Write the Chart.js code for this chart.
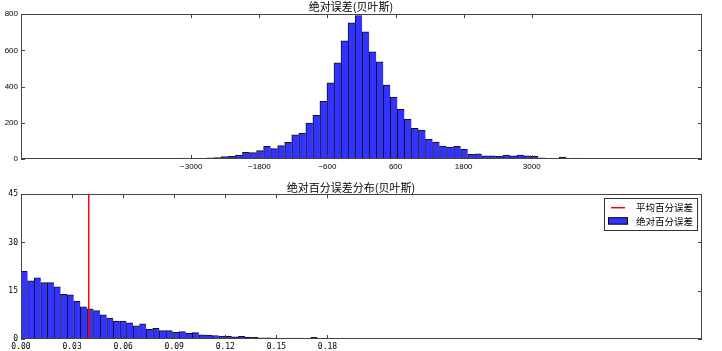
<!DOCTYPE html>
<html lang="zh">
<head>
<meta charset="UTF-8">
<script src="https://cdn.jsdelivr.net/npm/chart.js"></script>
<title>误差分布</title>
<style>
  body { margin: 0; background: #fff; }
  .box { position: absolute; left: 0; }
</style>
</head>
<body>
<div class="box" style="top:0"><canvas id="absChart" width="722" height="175"></canvas></div>
<div class="box" style="top:175px"><canvas id="pctChart" width="722" height="176"></canvas></div>

<script>
// ---- dados ----
// histograma do erro absoluto (bins de largura fixa)
const absBinStart = -4701;
const absBinWidth = 124;
const absCounts = [
  2, 1, 2, 1, 2, 1, 2, 1, 0, 3, 1, 4, 5, 2, 2, 3, 7, 8, 14, 15, 22,
  37, 35, 46, 70, 57, 74, 92, 134, 142, 199,
  241, 318, 421, 531, 653, 752, 793, 702, 592, 537,
  408, 342, 274, 221, 169, 160, 110, 94, 72, 66,
  70, 53, 26, 29, 18, 18, 15, 22, 17, 22,
  17, 15, 7, 4, 3, 11, 2, 5, 2, 4,
  3, 1, 2, 1, 0, 1, 2, 0, 1, 2
];
const absTicks = [-3000, -1800, -600, 600, 1800, 3000];

// histograma do erro percentual absoluto (normalizado)
const pctBinStart = 0;
const pctBinWidth = 0.00387;
const pctDensity = [
  21.0, 18.1, 19.0, 17.5, 17.5, 16.2, 13.9, 13.7, 11.7, 10.0,
  9.4, 8.8, 7.5, 6.5, 5.6, 5.6, 5.0, 4.1, 4.7, 3.0,
  3.3, 2.6, 2.6, 2.1, 2.3, 1.8, 2.0, 1.3, 1.2, 1.1,
  0.9, 0.8, 0.7, 0.8, 0.6, 0.5, 0.4, 0.4, 0.3, 0.1,
  0.3, 0.3, 0.3, 0.2, 0.5, 0, 0.1, 0.2, 0, 0.1,
  0.1, 0, 0.1, 0, 0.1, 0.1, 0, 0, 0.2
];
const pctMean = 0.0398;
const pctTicks = [0, 0.03, 0.06, 0.09, 0.12, 0.15, 0.18];
const pctYTicks = [0, 15, 30, 45];

const absTitle = '绝对误差(贝叶斯)';
const pctTitle = '绝对百分误差分布(贝叶斯)';
const meanLabel = '平均百分误差';
const pctLabel = '绝对百分误差';

const barBlue = '#3333ff';
const cjk = '"Noto Sans CJK SC", "DejaVu Sans", sans-serif';

// moldura com ticks para dentro (estilo matplotlib)
const moldura = {
  id: 'moldura',
  afterDraw(chart) {
    const { ctx, chartArea: a, scales } = chart;
    const x = scales.x, y = scales.y;
    ctx.save();
    ctx.strokeStyle = '#444';
    ctx.lineWidth = 1;
    ctx.strokeRect(Math.round(a.left) + 0.5, Math.round(a.top) + 0.5,
      Math.round(a.right - a.left) - 1, Math.round(a.bottom - a.top) - 1);
    ctx.beginPath();
    x.ticks.forEach((t, i) => {
      const px = Math.round(x.getPixelForTick(i)) + 0.5;
      ctx.moveTo(px, a.bottom); ctx.lineTo(px, a.bottom - 4);
      ctx.moveTo(px, a.top); ctx.lineTo(px, a.top + 4);
    });
    y.ticks.forEach((t, i) => {
      const py = Math.round(y.getPixelForTick(i)) + 0.5;
      ctx.moveTo(a.left, py); ctx.lineTo(a.left + 4, py);
      ctx.moveTo(a.right, py); ctx.lineTo(a.right - 4, py);
    });
    ctx.stroke();
    ctx.restore();
  }
};

// legenda dentro da área do gráfico (canto superior direito)
const legendaInterna = {
  id: 'legendaInterna',
  afterDraw(chart) {
    const { ctx, chartArea: a } = chart;
    const w = 93, h = 32;
    const left = a.right - 5 - w, top = a.top + 4;
    ctx.save();
    ctx.fillStyle = '#fff';
    ctx.fillRect(left, top, w, h);
    ctx.strokeStyle = '#333';
    ctx.lineWidth = 1;
    ctx.strokeRect(Math.round(left) + 0.5, Math.round(top) + 0.5, w, h);
    const dsLine = chart.data.datasets[0];
    const dsBar = chart.data.datasets[1];
    // linha vermelha
    ctx.strokeStyle = dsLine.borderColor;
    ctx.lineWidth = 1.5;
    ctx.beginPath();
    ctx.moveTo(left + 7, top + 9.5);
    ctx.lineTo(left + 21, top + 9.5);
    ctx.stroke();
    // retângulo azul
    ctx.fillStyle = dsBar.backgroundColor;
    ctx.fillRect(left + 4, top + 19.5, 20, 6.5);
    ctx.strokeStyle = '#000';
    ctx.lineWidth = 1;
    ctx.strokeRect(left + 4 + 0.5, top + 19.5, 19, 6.5);
    // textos
    ctx.fillStyle = '#000';
    ctx.font = '9.5px ' + cjk;
    ctx.textBaseline = 'middle';
    ctx.fillText(dsLine.label, left + 32, top + 9.5);
    ctx.fillText(dsBar.label, left + 32, top + 23);
    ctx.restore();
  }
};

function centros(start, width, n) {
  const out = [];
  for (let i = 0; i < n; i++) out.push(start + (i + 0.5) * width);
  return out;
}

// ---- gráfico 1: erro absoluto ----
const absCenters = centros(absBinStart, absBinWidth, absCounts.length);
new Chart(document.getElementById('absChart'), {
  type: 'bar',
  data: {
    datasets: [{
      label: absTitle,
      data: absCounts.map((v, i) => ({ x: absCenters[i], y: v })),
      backgroundColor: barBlue,
      borderColor: '#111',
      borderWidth: { left: 1, top: 1, right: 0, bottom: 0 },
      barPercentage: 1,
      categoryPercentage: 1
    }]
  },
  options: {
    responsive: false,
    animation: false,
    layout: { padding: { left: 0, right: 20, top: 0, bottom: 0 } },
    plugins: {
      legend: { display: false },
      tooltip: { enabled: false },
      title: {
        display: true, text: absTitle, color: '#000',
        font: { family: cjk, size: 11, weight: 'normal' },
        padding: { top: 0, bottom: 1 }
      }
    },
    scales: {
      x: {
        type: 'linear', min: -6000, max: 6000, offset: false,
        afterBuildTicks: s => { s.ticks = absTicks.map(v => ({ value: v })); },
        afterFit: s => { s.height = 16; },
        grid: { display: false, drawTicks: false },
        border: { display: false },
        ticks: {
          autoSkip: false, maxRotation: 0, padding: 2.5, color: '#000',
          font: { family: '"Liberation Sans", Arial, sans-serif', size: 8 },
          callback: v => v < 0 ? '\u2212' + Math.abs(v) : String(v)
        }
      },
      y: {
        min: 0, max: 800,
        afterFit: s => { s.width = 21; },
        grid: { display: false, drawTicks: false },
        border: { display: false },
        ticks: {
          stepSize: 200, padding: 3, color: '#000',
          font: { family: '"Liberation Sans", Arial, sans-serif', size: 8 }
        }
      }
    }
  },
  plugins: [moldura]
});

// ---- gráfico 2: erro percentual absoluto ----
const pctCenters = centros(pctBinStart, pctBinWidth, pctDensity.length);
new Chart(document.getElementById('pctChart'), {
  type: 'bar',
  data: {
    datasets: [{
      type: 'line',
      label: meanLabel,
      data: [{ x: pctMean, y: 0 }, { x: pctMean, y: 45 }],
      borderColor: '#ff0000',
      borderWidth: 1.5,
      pointRadius: 0,
      fill: false
    }, {
      label: pctLabel,
      data: pctDensity.map((v, i) => ({ x: pctCenters[i], y: v })),
      backgroundColor: barBlue,
      borderColor: '#111',
      borderWidth: { left: 1, top: 1, right: 0, bottom: 0 },
      barPercentage: 1,
      categoryPercentage: 1
    }]
  },
  options: {
    responsive: false,
    animation: false,
    layout: { padding: { left: 0, right: 20, top: 0, bottom: 0 } },
    plugins: {
      legend: { display: false },
      tooltip: { enabled: false },
      title: {
        display: true, text: pctTitle, color: '#000',
        font: { family: cjk, size: 11, weight: 'normal' },
        padding: { top: 6, bottom: 0 }
      }
    },
    scales: {
      x: {
        type: 'linear', min: 0, max: 0.4, offset: false,
        afterBuildTicks: s => { s.ticks = pctTicks.map(v => ({ value: v })); },
        afterFit: s => { s.height = 12; },
        grid: { display: false, drawTicks: false },
        border: { display: false },
        ticks: {
          autoSkip: false, maxRotation: 0, padding: 3, color: '#000',
          font: { family: '"DejaVu Sans Mono", monospace', size: 8 },
          callback: v => v.toFixed(2)
        }
      },
      y: {
        min: 0, max: 45,
        afterBuildTicks: s => { s.ticks = pctYTicks.map(v => ({ value: v })); },
        afterFit: s => { s.width = 21; },
        grid: { display: false, drawTicks: false },
        border: { display: false },
        ticks: {
          padding: 3, color: '#000',
          font: { family: '"DejaVu Sans Mono", monospace', size: 8 }
        }
      }
    }
  },
  plugins: [moldura, legendaInterna]
});
</script>
</body>
</html>
